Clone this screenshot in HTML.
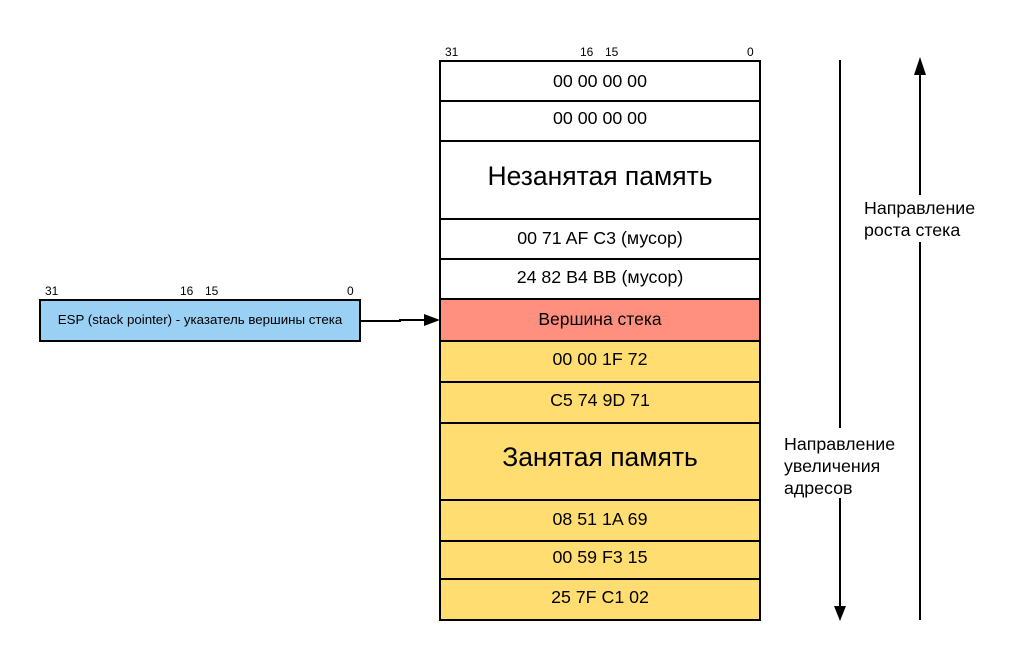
<!DOCTYPE html>
<html><head><meta charset="utf-8"><style>
html,body{margin:0;padding:0;background:#fff;}
svg{display:block;font-family:"Liberation Sans",sans-serif;}
</style></head><body>
<svg width="1016" height="660" viewBox="0 0 1016 660" xmlns="http://www.w3.org/2000/svg">
<g stroke="#000" stroke-width="2">
<rect x="440" y="61" width="320" height="40" fill="#fff"/>
<rect x="440" y="101" width="320" height="40" fill="#fff"/>
<rect x="440" y="141" width="320" height="78" fill="#fff"/>
<rect x="440" y="219" width="320" height="40" fill="#fff"/>
<rect x="440" y="259" width="320" height="40" fill="#fff"/>
<rect x="440" y="299" width="320" height="42" fill="#FF8F7F"/>
<rect x="440" y="341" width="320" height="41" fill="#FFDD71"/>
<rect x="440" y="382" width="320" height="41" fill="#FFDD71"/>
<rect x="440" y="423" width="320" height="77" fill="#FFDD71"/>
<rect x="440" y="500" width="320" height="41" fill="#FFDD71"/>
<rect x="440" y="541" width="320" height="38" fill="#FFDD71"/>
<rect x="440" y="579" width="320" height="41" fill="#FFDD71"/>
<rect x="40" y="300" width="320" height="41" fill="#99D0F3"/>
<polyline points="360,321 400,321 400,320 426,320" fill="none"/>
<line x1="840" y1="60" x2="840" y2="428"/>
<line x1="840" y1="498" x2="840" y2="608"/>
<line x1="920" y1="72" x2="920" y2="195"/>
<line x1="920" y1="242" x2="920" y2="620"/>
</g>
<polygon points="440,320 424,314 424,326" fill="#000"/>
<polygon points="840,621 834,606 846,606" fill="#000"/>
<polygon points="920,57 914,75 926,75" fill="#000"/>
<g font-size="17.8" text-anchor="middle" fill="#000">
<text x="600" y="87">00 00 00 00</text>
<text x="600" y="124">00 00 00 00</text>
<text x="600" y="185" font-size="26.5">Незанятая память</text>
<text x="600" y="244">00 71 AF C3 (мусор)</text>
<text x="600" y="283">24 82 B4 BB (мусор)</text>
<text x="600" y="325" font-size="17.5">Вершина стека</text>
<text x="600" y="365">00 00 1F 72</text>
<text x="600" y="406">C5 74 9D 71</text>
<text x="600" y="466" font-size="26.5">Занятая память</text>
<text x="600" y="525">08 51 1A 69</text>
<text x="600" y="563">00 59 F3 15</text>
<text x="600" y="603">25 7F C1 02</text>
<text x="200" y="324" font-size="13.3">ESP (stack pointer) - указатель вершины стека</text>
</g>
<g font-size="12" fill="#000">
<text x="445" y="56">31</text><text x="580" y="56">16</text><text x="605" y="56">15</text><text x="747" y="56">0</text>
<text x="45" y="295">31</text><text x="180" y="295">16</text><text x="205" y="295">15</text><text x="347" y="295">0</text>
</g>
<g font-size="17.8" fill="#000">
<text x="864" y="214">Направление</text><text x="864" y="236">роста стека</text>
<text x="784" y="450">Направление</text><text x="784" y="472">увеличения</text><text x="784" y="494">адресов</text>
</g>
</svg>
</body></html>
